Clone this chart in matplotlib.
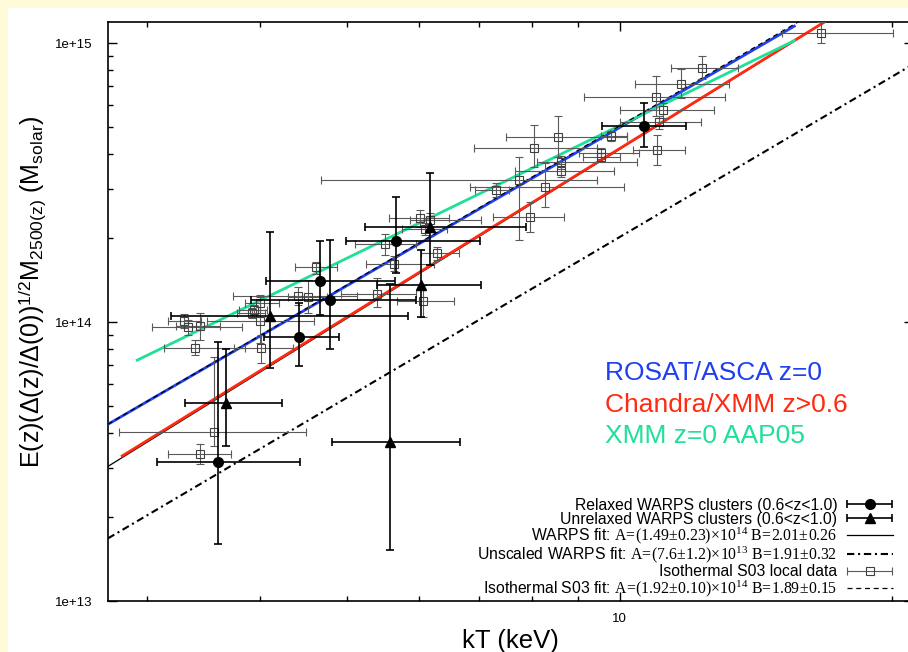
import numpy as np
import matplotlib
matplotlib.use("Agg")
import matplotlib.pyplot as plt
from matplotlib.ticker import FixedLocator, NullFormatter, FuncFormatter
from matplotlib.container import ErrorbarContainer
from matplotlib.legend_handler import HandlerErrorbar
from matplotlib.patches import Rectangle

plt.rcParams['font.family'] = ['Liberation Sans', 'DejaVu Sans']
plt.rcParams['mathtext.fontset'] = 'custom'
plt.rcParams['mathtext.rm'] = 'Liberation Serif'
plt.rcParams['mathtext.it'] = 'Liberation Serif:italic'
plt.rcParams['mathtext.bf'] = 'Liberation Serif:bold'
plt.rcParams['mathtext.sf'] = 'Liberation Sans'

# kT in keV, masses in units of 1e14 Msolar; _lo/_hi are the error bar ends

# relaxed WARPS clusters
relaxed_kt    = [3.60, 4.42, 4.78, 4.67, 5.66, 10.65]
relaxed_kt_lo = [3.08, 4.05, 3.91, 4.07, 4.98, 9.57]
relaxed_kt_hi = [4.43, 4.90, 5.95, 5.64, 7.01, 11.85]
relaxed_m     = [0.315, 0.886, 1.199, 1.40, 1.96, 5.05]
relaxed_m_lo  = [0.160, 0.695, 0.798, 1.06, 1.50, 4.25]
relaxed_m_hi  = [0.850, 1.167, 1.97, 1.95, 2.80, 6.08]

# unrelaxed WARPS clusters
unrel_kt    = [3.67, 4.11, 6.17, 6.03, 5.58]
unrel_kt_lo = [3.31, 3.19, 5.23, 5.40, 4.81]
unrel_kt_hi = [4.23, 5.84, 7.89, 7.03, 6.67]
unrel_m     = [0.514, 1.05, 2.19, 1.357, 0.372]
unrel_m_lo  = [0.360, 0.682, 1.60, 1.045, 0.152]
unrel_m_hi  = [0.798, 2.11, 3.42, 1.81, 1.37]

# isothermal S03 local data
s03_kt    = [3.30, 3.33, 3.44, 3.39, 3.92, 3.94, 4.00, 4.00, 4.01, 4.41,
             4.52, 4.62, 5.39, 5.51, 5.63, 6.02, 6.17, 6.09, 6.28, 6.07,
             7.31, 7.75, 7.97, 8.28, 8.04, 8.54, 8.61, 8.61, 9.53, 9.53,
             9.79, 10.99, 10.97, 11.18, 11.06, 11.70, 12.32, 16.68, 3.56, 3.44]
s03_kt_lo = [3.17, 3.04, 3.23, 3.14, 3.78, 3.80, 3.85, 3.50, 3.75, 3.74,
             4.30, 4.38, 4.92, 5.10, 5.24, 5.56, 5.87, 5.75, 6.03, 5.68,
             6.93, 4.68, 7.25, 6.84, 6.90, 7.48, 8.11, 7.67, 9.01, 9.10,
             9.53, 10.36, 9.13, 10.0, 10.0, 10.4, 11.39, 15.13, 2.80, 3.17]
s03_kt_hi = [3.45, 3.83, 3.62, 3.85, 4.06, 4.08, 4.20, 4.60, 4.35, 5.13,
             4.75, 4.87, 5.95, 5.95, 6.23, 6.48, 7.02, 6.45, 6.64, 6.56,
             7.55, 9.43, 8.67, 10.1, 9.45, 10.2, 10.46, 9.86, 10.5, 10.0,
             10.2, 11.81, 13.09, 12.72, 12.3, 13.2, 13.51, 20.05, 4.50, 3.72]
s03_m     = [1.01, 0.957, 0.970, 0.810, 1.074, 1.104, 1.17, 1.01, 0.805, 1.24,
             1.226, 1.58, 1.265, 1.90, 1.615, 2.36, 2.32, 2.15, 1.77, 1.19,
             2.97, 3.23, 2.38, 3.06, 4.19, 4.62, 3.75, 3.49, 4.03, 3.89,
             4.65, 4.14, 6.39, 5.75, 5.22, 7.13, 8.16, 10.9, 0.402, 0.336]
s03_m_lo  = [0.95, 0.90, 0.861, 0.76, 1.03, 1.06, 1.10, 0.839, 0.714, 1.15,
             1.074, 1.49, 1.13, 1.74, 1.52, 2.19, 2.20, 2.05, 1.67, 1.045,
             2.80, 1.97, 2.10, 2.58, 3.60, 3.89, 3.55, 3.30, 3.85, 3.75,
             4.45, 3.65, 5.50, 5.40, 4.90, 6.37, 7.41, 9.97, 0.36, 0.310]
s03_m_hi  = [1.07, 1.02, 1.074, 0.86, 1.12, 1.15, 1.25, 1.23, 0.897, 1.33,
             1.41, 1.64, 1.44, 2.07, 1.72, 2.53, 2.45, 2.26, 1.86, 1.36,
             3.15, 3.91, 2.70, 3.71, 5.08, 5.47, 3.95, 3.70, 4.20, 4.05,
             4.85, 4.68, 7.60, 6.10, 5.50, 8.05, 8.98, 11.9, 0.75, 0.365]

# fits M = A (kT/6keV)^B, A in 1e14
pivot = 6.0
warps_A, warps_B = 1.49, 2.01
unscaled_A, unscaled_B = 0.76, 1.91
isofit_A, isofit_B = 1.92, 1.89

# overlaid relations (end points)
rosat_kt, rosat_m = [2.72, 15.6], [0.43, 11.5]
chandra_kt, chandra_m = [2.82, 16.84], [0.331, 11.9]
xmm_kt, xmm_m = [2.93, 15.6], [0.73, 10.2]

# \! around operators removes mathtext's extra spacing
legend_labels = [
    'Relaxed WARPS clusters (0.6<z<1.0)',
    'Unrelaxed WARPS clusters (0.6<z<1.0)',
    r'WARPS fit: $\mathrm{A\!=\!(1.49\!\pm\!0.23)\!\times\!10^{14}\ B\!=\!2.01\!\pm\!0.26}$',
    r'Unscaled WARPS fit: $\mathrm{A\!=\!(7.6\!\pm\!1.2)\!\times\!10^{13}\ B\!=\!1.91\!\pm\!0.32}$',
    'Isothermal S03 local data',
    r'Isothermal S03 fit: $\mathrm{A\!=\!(1.92\!\pm\!0.10)\!\times\!10^{14}\ B\!=\!1.89\!\pm\!0.15}$',
]

blue = '#1f3ff0'
red = '#ff2a10'
green = '#1ee096'
gray = '#5a5a5a'


def errs(v, lo, hi):
    v, lo, hi = np.array(v), np.array(lo), np.array(hi)
    return v, np.vstack([v - lo, hi - v])


fig = plt.figure(figsize=(9.08, 6.52), dpi=100)
fig.patch.set_facecolor('#fffad8')
fig.add_artist(Rectangle((8 / 908, 0), 1, 1 - 8 / 652, transform=fig.transFigure,
                         facecolor='white', edgecolor='none', zorder=-5))
ax = fig.add_axes([108 / 908, 51 / 652, 805 / 908, 579 / 652])
ax.set_xscale('log')
ax.set_yscale('log')
ax.set_xlim(2.72, 21.1)
ax.set_ylim(1e13, 1.19e15)

kt_all = np.array(ax.get_xlim())
l_warps, = ax.plot(kt_all, warps_A * 1e14 * (kt_all / pivot) ** warps_B, '-', color='k', lw=0.9, zorder=2)
l_unsc, = ax.plot(kt_all, unscaled_A * 1e14 * (kt_all / pivot) ** unscaled_B, color='k', lw=1.5,
                  dashes=(3.5, 1.8, 1, 1.8), zorder=2)

# coloured relations
ax.plot(rosat_kt, np.array(rosat_m) * 1e14, color=blue, lw=2.0, zorder=3)
ax.plot(chandra_kt, np.array(chandra_m) * 1e14, color=red, lw=2.0, zorder=3)
ax.plot(xmm_kt, np.array(xmm_m) * 1e14, color=green, lw=2.0, zorder=3)

l_iso, = ax.plot(kt_all, isofit_A * 1e14 * (kt_all / pivot) ** isofit_B, color='k', lw=0.9,
                 dashes=(4, 3), zorder=4)

# data
x, xe = errs(s03_kt, s03_kt_lo, s03_kt_hi)
y, ye = errs(s03_m, s03_m_lo, s03_m_hi)
ax.errorbar(x, y * 1e14, xerr=xe, yerr=ye * 1e14, fmt='s', ms=6, mfc='none', mec='#404040', mew=0.8,
            ecolor=gray, elinewidth=0.8, capsize=2.6, capthick=0.8, zorder=5)

x, xe = errs(relaxed_kt, relaxed_kt_lo, relaxed_kt_hi)
y, ye = errs(relaxed_m, relaxed_m_lo, relaxed_m_hi)
ax.errorbar(x, y * 1e14, xerr=xe, yerr=ye * 1e14, fmt='o', ms=7, color='k',
            elinewidth=1.2, capsize=3.2, capthick=1.2, zorder=6)

x, xe = errs(unrel_kt, unrel_kt_lo, unrel_kt_hi)
y, ye = errs(unrel_m, unrel_m_lo, unrel_m_hi)
ax.errorbar(x, y * 1e14, xerr=xe, yerr=ye * 1e14, fmt='^', ms=6.5, color='k',
            elinewidth=1.2, capsize=3.2, capthick=1.2, zorder=6)

# legend proxies with horizontal bars only
h_rel = ax.errorbar([np.nan], [np.nan], xerr=[[1], [1]], fmt='o', ms=7, color='k',
                    elinewidth=1.2, capsize=3.2, capthick=1.2)
h_unrel = ax.errorbar([np.nan], [np.nan], xerr=[[1], [1]], fmt='^', ms=6.5, color='k',
                      elinewidth=1.2, capsize=3.2, capthick=1.2)
h_s03 = ax.errorbar([np.nan], [np.nan], xerr=[[1], [1]], fmt='s', ms=6, mfc='none', mec='#404040',
                    mew=0.8, ecolor=gray, elinewidth=0.8, capsize=2.6, capthick=0.8)

leg = ax.legend([h_rel, h_unrel, l_warps, l_unsc, h_s03, l_iso], legend_labels,
                loc='lower right', bbox_to_anchor=(0.975, 0.004), frameon=False,
                markerfirst=False, fontsize=11.3, handlelength=2.95, handletextpad=0.6,
                labelspacing=-0.07, borderpad=0, borderaxespad=0,
                handler_map={ErrorbarContainer: HandlerErrorbar(xerr_size=1.45)})

# labels on the plot
ax.text(0.6174, 0.3817, 'ROSAT/ASCA z=0', color=blue, fontsize=19, transform=ax.transAxes, va='baseline')
ax.text(0.6174, 0.3264, 'Chandra/XMM z>0.6', color=red, fontsize=19, transform=ax.transAxes, va='baseline')
ax.text(0.6174, 0.2729, 'XMM z=0 AAP05', color=green, fontsize=19, transform=ax.transAxes, va='baseline')

# ticks
ax.xaxis.set_major_locator(FixedLocator([10]))
ax.xaxis.set_minor_locator(FixedLocator([3, 4, 5, 6, 7, 8, 9, 20]))
ax.xaxis.set_major_formatter(FuncFormatter(lambda v, p: '%d' % v))
ax.xaxis.set_minor_formatter(NullFormatter())
ax.yaxis.set_major_locator(FixedLocator([1e13, 1e14, 1e15]))
ax.yaxis.set_minor_locator(FixedLocator([k * 10.0 ** e for e in (13, 14) for k in range(2, 10)]))
ax.yaxis.set_major_formatter(FuncFormatter(lambda v, p: '1e+%d' % round(np.log10(v))))
ax.yaxis.set_minor_formatter(NullFormatter())
ax.tick_params(which='both', direction='in', top=True, right=True, labelsize=9.5, width=1)
ax.tick_params(which='major', length=6.5)
ax.tick_params(which='minor', length=3.8)
ax.tick_params(axis='y', pad=11)
ax.tick_params(axis='x', pad=8.5)
for s in ax.spines.values():
    s.set_linewidth(1.2)

ax.set_xlabel('kT (keV)', fontsize=18.5)
ax.xaxis.set_label_coords(0.5, -0.048)
ax.set_ylabel(r'E(z)(Δ(z)/Δ(0))$^{\mathsf{1/2}}$M$_{\mathsf{2500(z)}}$ (M$_{\mathsf{solar}}$)', fontsize=18)
ax.yaxis.set_label_coords(-0.075, 0.534)

fig.savefig('out.png', dpi=100)
